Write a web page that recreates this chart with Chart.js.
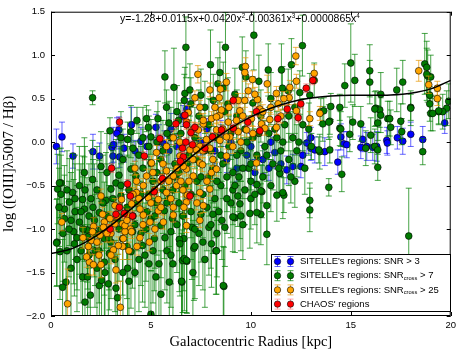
<!DOCTYPE html>
<html>
<head>
<meta charset="utf-8">
<script src="https://cdn.jsdelivr.net/npm/chart.js@4"></script>
<style>
  html, body { margin: 0; padding: 0; background: #fff; }
  #wrap { width: 460px; height: 352px; }
</style>
</head>
<body>
<div id="wrap"><canvas id="oiiiPlot"></canvas></div>
<script>
// [radius kpc, log([OIII]/Hb), error]
const snr3Regions = [
  [0.27,-0.05,0.2],[0.55,0.06,0.17],[1.1,-0.16,0.14],[2.1,-0.11,0.2],[2.43,-0.16,0.15],[3.1,-0.16,0.15],
  [3.05,-0.06,0.18],[3.13,-0.03,0.2],[3.4,0.14,0.15],[3.43,-0.17,0.12],[3.65,-0.07,0.16],[4.03,0.2,0.2],
  [3.3,0.1,0.18],[4.5,0.01,0.16],[5.25,0.17,0.15],[5.4,0.0,0.2],[5.67,-0.02,0.15],[6.0,0.15,0.18],
  [4.2,-0.1,0.12],[4.8,-0.05,0.12],[5.9,-0.1,0.15],[6.6,0.3,0.12],[6.8,0.38,0.12],[7.5,0.0,0.15],
  [8.2,-0.1,0.15],[8.8,-0.2,0.15],[9.3,-0.3,0.15],[9.8,-0.15,0.18],[10.2,-0.35,0.15],[10.6,-0.2,0.16],
  [10.9,-0.3,0.14],[11.2,-0.12,0.18],[11.5,-0.25,0.15],[11.8,-0.32,0.16],[12.1,-0.28,0.14],[12.5,-0.28,0.13],
  [12.8,-0.01,0.12],[12.6,-0.15,0.15],[13.0,-0.07,0.14],[13.0,0.05,0.12],[13.2,-0.09,0.15],[13.7,-0.11,0.16],
  [14.35,-0.23,0.14],[14.5,0.06,0.15],[14.65,-0.02,0.14],[14.8,-0.03,0.15],[15.5,-0.06,0.13],[15.6,0.03,0.14],
  [15.8,-0.05,0.16],[16.1,-0.06,0.15],[16.3,-0.05,0.17],[16.8,0.02,0.15],[16.83,-0.01,0.14],[17.33,0.05,0.13],
  [17.6,0.01,0.15],[18.0,0.09,0.14],[18.6,0.03,0.15],[19.7,0.22,0.12],[9.0,0.0,0.15],[10.0,-0.05,0.15],
  [11.0,0.0,0.12],[8.5,0.1,0.15],[7.8,0.15,0.12],[6.3,-0.05,0.14]
];

const snrCross7Regions = [
  [2.08,0.51,0.08],[5.7,0.75,0.3],[6.15,0.63,0.45],[5.78,0.4,0.2],[2.95,0.13,0.15],[4.3,0.25,0.15],
  [4.78,0.27,0.15],[5.35,0.27,0.2],[4.87,0.17,0.2],[3.83,0.03,0.2],[4.1,-0.07,0.2],[5.0,0.06,0.2],
  [5.9,0.22,0.25],[6.38,0.25,0.2],[6.75,1.09,0.35],[7.98,0.89,0.4],[7.5,0.54,0.3],[7.0,0.44,0.3],
  [6.7,0.56,0.3],[8.35,0.67,0.3],[8.45,0.8,0.35],[8.73,1.09,0.4],[8.85,0.44,0.3],[10.15,1.23,0.4],
  [12.58,1.11,0.35],[9.57,0.86,0.35],[10.87,0.83,0.3],[11.53,0.83,0.3],[12.03,0.89,0.3],[6.95,0.6,0.3],
  [6.67,0.48,0.3],[8.12,0.48,0.3],[8.62,0.62,0.3],[10.4,0.7,0.3],[11.58,0.62,0.25],[11.87,0.59,0.25],
  [9.75,0.75,0.3],[12.45,0.57,0.25],[15.0,0.91,0.45],[15.95,0.82,0.3],[15.95,0.69,0.25],[15.2,0.71,0.3],
  [14.7,0.65,0.25],[17.6,0.69,0.25],[18.85,0.76,0.3],[19.0,0.75,0.25],[18.95,0.54,0.2],[18.95,0.44,0.2],
  [19.0,0.33,0.2],[19.4,0.35,0.15],[19.8,0.39,0.2],[19.6,0.35,0.2],[14.0,0.41,0.15],[14.45,0.4,0.15],
  [16.25,0.39,0.2],[16.45,0.37,0.2],[16.5,0.31,0.2],[16.85,0.27,0.2],[18.0,0.4,0.15],[15.1,0.23,0.2],
  [13.95,0.24,0.15],[13.6,0.21,0.2],[14.45,0.16,0.2],[13.5,0.35,0.15],[13.65,0.36,0.15],[16.35,0.22,0.2],
  [17.5,0.24,0.2],[17.55,0.12,0.15],[16.0,0.08,0.2],[15.75,-0.07,0.2],[16.2,-0.05,0.2],[16.35,-0.09,0.2],
  [13.95,-0.09,0.15],[13.45,-0.11,0.2],[16.35,-0.29,0.15],[14.55,-0.37,0.2],[13.03,-0.05,0.15],
  [13.17,0.71,0.2],[16.5,0.55,0.25],[17.3,0.6,0.25],[18.7,0.9,0.35],[18.8,0.86,0.3],[18.8,0.78,0.3],
  [12.95,0.54,0.25],[16.2,0.38,0.2],[16.95,0.27,0.2],[15.5,0.21,0.2],[13.9,0.23,0.2],[14.5,0.15,0.2],
  [14.95,0.09,0.2],[17.0,0.17,0.2],[18.0,0.39,0.2],[18.6,-0.11,0.15],[13.4,-0.09,0.15],[19.9,0.47,0.2],
  [19.4,0.36,0.15],[19.1,0.33,0.2],[13.9,-0.52,0.1],[12.95,-0.67,0.2],[12.95,-0.78,0.25],[17.9,-1.08,0.55],
  [11.65,-0.61,0.2],[11.3,-0.61,0.3],[11.45,-0.36,0.25],[10.55,-0.57,0.3],[10.8,-0.73,0.35],[10.5,-0.83,0.35],
  [10.3,-0.81,0.35],[9.95,-0.82,0.4],[9.45,-0.71,0.4],[9.2,-0.87,0.4],[10.8,-1.06,0.35],[10.5,-0.56,0.3],
  [10.3,-0.49,0.3],[9.1,-0.86,0.4],[8.55,-0.9,0.45],[8.7,-0.98,0.45],[8.3,-1.05,0.5],[8.25,-1.25,0.5],
  [7.15,-1.22,0.6],[7.1,-1.5,0.6],[6.8,-1.37,0.6],[6.55,-1.61,0.6],[8.65,-1.66,0.45],[7.9,-0.98,0.55],
  [8.1,-0.83,0.45],[7.5,-0.83,0.55],[7.05,-0.98,0.6],[6.65,-1.11,0.6],[9.0,-0.7,0.4],[9.35,-0.62,0.35],
  [11.6,-0.58,0.3],[0.3,-1.15,0.5],[0.5,-0.47,0.4],[0.45,-1.26,0.55],[0.75,-1.61,0.55],[0.58,-1.67,0.55],
  [1.17,-1.17,0.6],[1.13,-1.03,0.6],[1.58,-1.55,0.6],[1.83,-1.55,0.6],[1.97,-1.76,0.55],[2.42,-1.65,0.6],
  [3.33,-1.79,0.5],[2.92,-1.28,0.65],[3.83,-1.45,0.6],[5.25,-1.55,0.6],[5.92,-1.61,0.55],[6.42,-1.12,0.6],
  [6.58,-1.36,0.6],[5.0,-1.98,0.5],[2.67,-1.38,0.65],[3.25,-1.68,0.55],[0.33,-0.54,0.4],[0.67,-0.77,0.5],
  [0.67,-0.88,0.5],[0.92,-0.69,0.5],[1.08,-0.58,0.45],[1.42,-0.5,0.45],[1.58,-0.66,0.5],[1.67,-0.77,0.6],
  [1.42,-0.92,0.6],[1.8,-1.01,0.6],[1.83,-1.09,0.6],[2.17,-0.9,0.65],[2.42,-0.81,0.6],[2.5,-1.0,0.65],
  [2.67,-1.11,0.65],[2.75,-0.67,0.55],[3.0,-0.54,0.5],[3.25,-0.47,0.5],[3.5,-0.62,0.55],[3.58,-1.11,0.65],
  [4.0,-1.26,0.65],[4.08,-1.03,0.65],[4.58,-1.19,0.65],[4.75,-1.0,0.6],[5.0,-0.88,0.6],[5.17,-1.11,0.6],
  [5.5,-0.96,0.6],[5.67,-0.79,0.55],[6.0,-1.03,0.6],[6.08,-0.88,0.55],[6.67,-1.34,0.6],[4.25,-0.39,0.4],
  [4.0,-0.31,0.4],[5.0,-0.24,0.4],[2.5,-0.28,0.4],[2.08,-0.43,0.45],[1.67,-0.35,0.4],[0.42,-0.47,0.4],
  [0.5,-0.6,0.45],[0.28,-1.16,0.5],[1.7,-1.84,0.5],[2.53,-1.59,0.6],[2.87,-1.63,0.6],[8.62,-1.65,0.45],
  [8.03,-1.17,0.5],[6.45,-1.17,0.6],[6.78,-1.36,0.6],[6.53,-1.6,0.55],[7.2,-1.2,0.6],[8.28,-1.25,0.5],
  [3.6,-0.2,0.35],[4.4,-0.15,0.35],[4.9,-0.05,0.35],[5.3,-0.35,0.4],[5.6,-0.1,0.35],[6.0,0.05,0.35],
  [6.2,-0.25,0.4],[6.5,0.1,0.35],[6.9,-0.15,0.4],[7.2,0.05,0.35],[7.4,0.3,0.3],[7.7,-0.1,0.4],
  [7.9,0.2,0.3],[8.1,-0.3,0.4],[8.3,0.05,0.35],[8.5,-0.15,0.35],[8.7,0.35,0.3],[8.9,-0.05,0.35],
  [9.1,-0.35,0.4],[9.3,0.3,0.3],[9.5,-0.1,0.35],[9.7,0.15,0.3],[9.9,-0.3,0.35],[10.1,0.05,0.3],
  [10.3,-0.15,0.3],[10.5,0.3,0.3],[10.7,-0.05,0.3],[10.9,0.1,0.3],[11.1,-0.25,0.3],[11.3,0.05,0.3],
  [11.5,-0.1,0.3],[11.7,0.2,0.3],[11.9,-0.2,0.3],[12.1,0.05,0.3],[12.3,-0.1,0.3],[12.6,0.2,0.3],
  [12.9,0.15,0.3],[12.2,-0.45,0.3],[3.3,-0.9,0.6],[3.8,-0.75,0.6],[4.2,-0.95,0.6],[4.5,-0.6,0.55],
  [4.8,-0.8,0.6],[5.1,-0.45,0.5],[5.3,-0.7,0.6],[5.6,-0.55,0.5],[5.9,-0.65,0.55],[6.2,-0.4,0.5],
  [6.4,-0.7,0.55],[6.7,-0.5,0.5],[7.0,-0.8,0.55],[7.3,-0.45,0.5],[7.6,-0.6,0.5],[7.9,-0.4,0.45],
  [8.2,-0.65,0.45],[8.5,-0.5,0.45],[8.8,-0.4,0.4],[9.1,-0.55,0.4],[9.4,-0.4,0.4],[9.7,-0.55,0.4],
  [10.0,-0.45,0.35],[10.0,-0.65,0.35],[9.6,-0.95,0.4],[7.4,-1.05,0.6],[5.8,-1.25,0.6],[4.4,-1.35,0.6],
  [3.0,-1.15,0.65],[2.2,-1.25,0.65],[1.3,-1.35,0.6],[0.9,-1.0,0.55],[2.0,-0.65,0.55],[2.8,-0.35,0.45],
  [3.4,-0.38,0.45],[1.2,-0.8,0.55],[2.3,-1.45,0.6],[4.9,-1.4,0.6],[6.1,-1.4,0.6],[7.7,-1.35,0.55],
  [5.5,-1.75,0.5],[3.9,-1.6,0.55],
  [0.4,-0.75,0.45],[0.6,-1.05,0.55],[0.8,-0.55,0.45],[0.8,-1.25,0.6],[1.0,-0.9,0.55],[1.0,-1.45,0.6],
  [1.2,-0.65,0.5],[1.3,-1.1,0.6],[1.5,-0.8,0.55],[1.5,-1.25,0.6],[1.6,-1.0,0.6],[1.7,-0.55,0.5],
  [1.9,-0.85,0.6],[1.9,-1.3,0.6],[2.1,-0.75,0.55],[2.2,-1.05,0.6],[2.3,-0.55,0.5],[2.4,-1.25,0.6],
  [2.6,-0.7,0.55],[2.7,-1.5,0.6],[2.8,-0.85,0.6],[2.9,-1.1,0.6],[3.1,-0.65,0.55],[3.2,-1.35,0.6],
  [3.4,-1.0,0.6],[3.5,-0.5,0.5],[3.6,-1.5,0.6],[3.8,-1.2,0.6],[3.9,-0.55,0.5],[4.1,-0.85,0.6],
  [4.2,-1.5,0.6],[4.3,-0.7,0.55],[4.5,-1.05,0.6],[4.6,-0.3,0.45],[4.7,-1.3,0.6],[4.9,-0.6,0.55],
  [5.1,-1.25,0.6],[5.2,-0.85,0.6],[5.4,-1.4,0.6],[5.5,-0.2,0.45],[5.7,-1.1,0.6],[5.8,-0.7,0.55],
  [6.0,-1.3,0.6],[6.1,-0.55,0.5],[6.3,-0.95,0.55],[6.4,-0.35,0.45],[6.6,-0.85,0.55],[6.8,-0.25,0.45],
  [7.0,-0.6,0.5],[7.2,-1.0,0.55],[7.3,-0.2,0.4],[7.5,-0.4,0.45],[7.6,-1.15,0.55],[7.8,-0.75,0.5],
  [8.0,-0.1,0.4],[8.0,-0.95,0.5],[8.3,-0.45,0.45],[8.4,-0.8,0.45],[8.6,-0.25,0.4],[8.8,-0.65,0.4],
  [9.0,0.1,0.3],[9.2,-0.5,0.4],[9.3,-0.15,0.35],[9.5,-0.85,0.4],[9.6,-0.3,0.35],[9.8,0.0,0.3],
  [10.0,-0.25,0.3],[10.2,-0.6,0.35],[10.4,0.1,0.3],[10.6,-0.4,0.3],[10.8,-0.15,0.3],[11.0,-0.5,0.3],
  [11.2,0.15,0.3],[11.4,-0.3,0.3],[11.6,0.0,0.3],[11.9,0.3,0.3],[12.0,-0.4,0.3],[12.4,0.0,0.3],
  [12.7,-0.3,0.3],[5.8,0.1,0.35],[5.3,0.0,0.35],[4.6,0.05,0.35],[4.0,0.12,0.3],[3.5,0.05,0.3],
  [6.3,0.35,0.3],[7.7,0.4,0.3],[9.2,0.55,0.3],[10.1,0.45,0.3],[11.0,0.5,0.3],[12.2,0.4,0.3]
];

const snrCross25Regions = [
  [7.35,0.78,0.1],[9.73,0.87,0.1],[12.25,0.99,0.1],[13.17,0.79,0.1],[18.4,0.82,0.12],[18.9,0.66,0.1],
  [19.33,0.62,0.08],[19.33,0.5,0.08],[13.45,0.33,0.08],[12.95,0.27,0.08],[0.83,-1.86,0.4],[3.47,-1.9,0.3],
  [0.54,-0.92,0.1],[1.92,-1.38,0.15],[2.5,-1.41,0.15],[3.25,-1.47,0.15],[3.58,-1.2,0.15],[4.92,-1.15,0.1],
  [2.5,-0.62,0.08],[2.58,-0.83,0.08],[2.13,-0.97,0.1],[2.08,-1.03,0.1],[2.67,-0.92,0.1],[3.58,-0.94,0.08],
  [3.97,-1.0,0.08],[3.7,-1.03,0.08],[10.08,0.72,0.1],[10.82,0.67,0.1],[11.28,0.56,0.08],[8.78,0.69,0.1],
  [8.48,0.61,0.08],[7.95,0.6,0.08],[7.45,0.4,0.08],[6.87,0.34,0.08],[8.42,0.51,0.08],[9.37,0.48,0.08],
  [9.7,0.48,0.08],[9.87,0.59,0.08],[10.33,0.49,0.08],[10.45,0.38,0.08],[10.95,0.26,0.08],[11.28,0.17,0.08],
  [11.92,0.51,0.08],[12.28,0.36,0.08],[8.87,0.23,0.08],[9.28,0.25,0.08],[9.45,0.36,0.08],[10.03,0.27,0.08],
  [10.53,0.21,0.08],[8.45,0.31,0.08],[8.03,0.27,0.08],[7.62,0.21,0.08],[7.37,0.14,0.08],[8.45,0.02,0.08],
  [8.95,0.06,0.08],[9.37,0.12,0.08],[9.78,0.14,0.08],[10.7,0.16,0.08],[7.45,-0.05,0.08],[7.95,-0.07,0.08],
  [6.95,-0.09,0.08],[6.45,0.0,0.08],[7.2,0.51,0.08],[6.78,0.23,0.08],[7.62,0.25,0.08],[7.12,0.15,0.08],
  [6.12,0.05,0.08],[5.78,-0.05,0.08],[5.28,-0.12,0.08],[5.03,-0.24,0.08],[6.45,-0.16,0.08],[7.28,-0.09,0.08],
  [7.78,0.03,0.08],[8.28,0.14,0.08],[8.78,0.06,0.08],[7.45,-0.24,0.08],[6.78,-0.31,0.08],[5.78,-0.33,0.08],
  [6.12,-0.39,0.08],[4.78,-0.39,0.08],[4.28,-0.45,0.08],[8.28,0.29,0.08],[8.53,0.37,0.08],[4.62,-0.5,0.08],
  [4.28,-0.58,0.08],[4.87,-0.64,0.08],[5.37,-0.66,0.08],[5.78,-0.58,0.08],[6.28,-0.5,0.08],[6.78,-0.69,0.08],
  [7.62,-0.73,0.08],[7.95,-0.54,0.08],[7.45,-0.58,0.08],[6.12,-0.75,0.08],[5.37,-0.79,0.08],[4.45,-0.77,0.08],
  [4.03,-0.71,0.08],[3.53,-0.66,0.08],[3.2,-0.73,0.08],[2.95,-0.88,0.08],[2.62,-0.98,0.08],[3.2,-0.94,0.08],
  [3.7,-0.96,0.08],[4.03,-1.03,0.08],[3.62,-1.11,0.1],[3.37,-1.19,0.1],[3.12,-1.24,0.1],[4.45,-1.1,0.1],
  [4.95,-0.92,0.08],[4.62,-0.84,0.08],[5.62,-0.92,0.08],[6.12,-0.84,0.08],[6.78,-0.96,0.08],[1.87,-1.2,0.1],
  [2.03,-1.13,0.1],[1.78,-1.32,0.12],[2.45,-1.07,0.1],[2.12,-1.41,0.12],[7.45,-0.9,0.08],[6.65,-0.75,0.08],
  [6.82,-0.61,0.08],[6.62,-0.28,0.08],[7.12,-0.39,0.08],[7.58,-0.26,0.08],[8.03,-0.35,0.08],[8.28,-0.31,0.08],
  [8.78,-0.16,0.08],[10.28,-0.24,0.08],[9.7,0.8,0.1],[11.37,0.44,0.08],[11.65,0.5,0.08],[11.95,0.63,0.08],
  [12.28,0.7,0.08],[5.5,-0.45,0.08],[6.5,-0.45,0.08],[5.2,-0.55,0.08],[3.9,-0.85,0.08],[3.0,-1.05,0.1],
  [4.2,-0.3,0.08],
  [2.3,-1.15,0.1],[2.8,-1.05,0.1],[3.3,-0.85,0.08],[3.8,-0.9,0.08],[4.1,-0.6,0.08],[4.4,-0.65,0.08],
  [4.6,-0.95,0.08],[5.0,-0.7,0.08],[5.1,-0.35,0.08],[5.5,-0.75,0.08],[5.6,-0.25,0.08],[5.9,-0.45,0.08],
  [6.0,-0.65,0.08],[6.3,-0.3,0.08],[6.6,-0.55,0.08],[6.9,-0.45,0.08],[7.1,-0.2,0.08],[7.3,-0.7,0.08],
  [7.6,-0.1,0.08],[7.8,-0.45,0.08],[8.1,-0.2,0.08],[8.2,0.4,0.08],[8.6,0.15,0.08],[8.9,0.4,0.08],
  [9.1,-0.05,0.08],[9.5,0.0,0.08],[9.6,0.3,0.08],[10.1,0.1,0.08],[10.2,0.55,0.08],[10.6,0.35,0.08],
  [11.0,0.4,0.08],[11.5,0.3,0.08],[3.0,-1.3,0.1],[2.4,-1.3,0.12],[1.6,-1.1,0.12],[3.9,-1.25,0.1],
  [4.3,-1.2,0.1],[5.2,-1.0,0.08]
];

const chaosRegions = [
  [3.43,0.23,0.05],[5.45,0.04,0.05],[4.67,-0.16,0.05],[3.03,-0.3,0.05],[6.75,0.0,0.05],[7.0,0.11,0.05],
  [6.58,-0.07,0.05],[6.7,0.31,0.05],[6.25,0.21,0.05],[9.12,0.48,0.05],[10.28,0.35,0.05],[11.35,0.27,0.05],
  [11.82,0.38,0.05],[12.37,0.28,0.05],[12.5,0.44,0.05],[12.77,0.62,0.05],[13.1,0.71,0.05],[9.85,0.23,0.05],
  [9.12,0.16,0.05],[8.53,0.14,0.05],[8.08,0.06,0.05],[7.2,0.17,0.05],[6.78,0.2,0.05],[7.7,-0.07,0.05],
  [7.08,-0.03,0.05],[6.62,-0.17,0.05],[10.45,0.13,0.05],[3.83,-0.48,0.05],[3.97,-0.62,0.05],[3.42,-0.75,0.05],
  [3.67,-0.82,0.05],[4.08,-0.85,0.05],[3.25,-0.83,0.05],[2.96,-1.0,0.05],[5.16,-0.57,0.05],[5.58,-0.42,0.05],
  [6.47,-0.22,0.05],[6.95,-0.62,0.05]
];

// polynomial fit
const fitRadius = [0,1,2,3,4,5,6,7,8,9,10,11,12,13,14,15,16,17,18,19,20];
const fitLog = [-1.28,-1.23,-1.117,-0.958,-0.771,-0.570,-0.367,-0.172,0.006,0.161,0.290,0.390,0.462,0.507,0.530,0.538,0.538,0.542,0.562,0.612,0.710];

const xTicks = [0, 5, 10, 15, 20];
const yTicks = [-2.0, -1.5, -1.0, -0.5, 0.0, 0.5, 1.0, 1.5];

const sans = '"Liberation Sans", Arial, sans-serif';
const serif = '"Liberation Serif", "DejaVu Serif", serif';

function series(label, rows, fill, bar, order) {
  return {
    label: label,
    data: rows.map(r => ({ x: r[0], y: r[1] })),
    errors: rows.map(r => r[2]),
    barColor: bar,
    backgroundColor: fill,
    borderColor: 'rgba(0,0,0,0.85)',
    borderWidth: 0.7,
    pointRadius: 3.4,
    order: order,
    clip: 0
  };
}

// draws text pieces, some raised or lowered
function richText(ctx, parts, x, y, size, align) {
  let total = 0;
  parts.forEach(p => {
    ctx.font = (p.s ? size * 0.6 : size) + 'px ' + sans;
    p.w = ctx.measureText(p.t).width;
    total += p.w;
  });
  let cx = align === 'center' ? x - total / 2 : x;
  ctx.textAlign = 'left';
  ctx.textBaseline = 'middle';
  parts.forEach(p => {
    ctx.font = (p.s ? size * 0.6 : size) + 'px ' + sans;
    ctx.fillText(p.t, cx, y + (p.s || 0));
    cx += p.w;
  });
}

const errorBars = {
  id: 'errorBars',
  beforeDatasetDraw(chart, args) {
    const ds = chart.data.datasets[args.index];
    if (!ds.errors) return;
    const { ctx, chartArea: a, scales: { x, y } } = chart;
    ctx.save();
    ctx.beginPath();
    ctx.rect(a.left, a.top, a.right - a.left, a.bottom - a.top);
    ctx.clip();
    ctx.strokeStyle = ds.barColor;
    ctx.lineWidth = 1;
    ds.data.forEach((p, i) => {
      const e = ds.errors[i];
      const px = x.getPixelForValue(p.x);
      const y1 = y.getPixelForValue(p.y + e);
      const y2 = y.getPixelForValue(p.y - e);
      ctx.beginPath();
      ctx.moveTo(px, y1); ctx.lineTo(px, y2);
      ctx.moveTo(px - 3, y1); ctx.lineTo(px + 3, y1);
      ctx.moveTo(px - 3, y2); ctx.lineTo(px + 3, y2);
      ctx.stroke();
    });
    ctx.restore();
  }
};

const frameAndLegend = {
  id: 'frameAndLegend',
  afterDraw(chart) {
    const { ctx, chartArea: a, scales: { x, y } } = chart;
    ctx.save();
    // axes box with inward ticks
    ctx.strokeStyle = '#000';
    ctx.lineWidth = 1;
    ctx.strokeRect(a.left + 0.5, a.top + 0.5, a.right - a.left - 1, a.bottom - a.top - 1);
    ctx.beginPath();
    xTicks.forEach(v => {
      const px = Math.round(x.getPixelForValue(v)) + 0.5;
      ctx.moveTo(px, a.bottom); ctx.lineTo(px, a.bottom - 4);
      ctx.moveTo(px, a.top); ctx.lineTo(px, a.top + 4);
    });
    yTicks.forEach(v => {
      const py = Math.round(y.getPixelForValue(v)) + 0.5;
      ctx.moveTo(a.left, py); ctx.lineTo(a.left + 4, py);
      ctx.moveTo(a.right, py); ctx.lineTo(a.right - 4, py);
    });
    ctx.stroke();

    // fit equation
    ctx.fillStyle = '#000';
    richText(ctx, [
      { t: 'y=-1.28+0.0115x+0.0420x' }, { t: '2', s: -3 },
      { t: '-0.00361x' }, { t: '3', s: -3 },
      { t: '+0.0000865x' }, { t: '4', s: -3 }
    ], 240, 19, 10.5, 'center');

    // legend
    const lx = 271, ly = 254, lw = 180, lh = 58;
    ctx.fillStyle = '#fff';
    ctx.fillRect(lx, ly, lw, lh);
    ctx.strokeRect(lx + 0.5, ly + 0.5, lw - 1, lh - 1);
    const rows = chart.data.datasets.filter(d => d.errors).slice().reverse();
    const labels = [
      [{ t: "SITELLE's regions: SNR > 3" }],
      [{ t: "SITELLE's regions: SNR" }, { t: 'cross', s: 2.5 }, { t: ' > 7' }],
      [{ t: "SITELLE's regions: SNR" }, { t: 'cross', s: 2.5 }, { t: ' > 25' }],
      [{ t: "CHAOS' regions" }]
    ];
    rows.forEach((d, i) => {
      const ry = ly + 7.5 + i * 14.2;
      [277.5, 290.5].forEach(mx => {
        ctx.strokeStyle = d.barColor;
        ctx.beginPath();
        ctx.moveTo(mx, ry - 5); ctx.lineTo(mx, ry + 5);
        ctx.moveTo(mx - 3, ry - 5); ctx.lineTo(mx + 3, ry - 5);
        ctx.moveTo(mx - 3, ry + 5); ctx.lineTo(mx + 3, ry + 5);
        ctx.stroke();
        ctx.beginPath();
        ctx.arc(mx, ry, 3.2, 0, Math.PI * 2);
        ctx.fillStyle = d.backgroundColor;
        ctx.fill();
        ctx.strokeStyle = 'rgba(0,0,0,0.85)';
        ctx.lineWidth = 0.7;
        ctx.stroke();
        ctx.lineWidth = 1;
      });
      ctx.fillStyle = '#000';
      richText(ctx, labels[i], 300, ry, 9.5, 'left');
    });
    ctx.restore();
  }
};

const ctx = document.getElementById('oiiiPlot');

new Chart(ctx, {
  type: 'scatter',
  data: {
    datasets: [
      {
        type: 'line',
        label: 'fit',
        data: fitRadius.map((r, i) => ({ x: r, y: fitLog[i] })),
        borderColor: '#000',
        borderWidth: 1.5,
        pointRadius: 0,
        cubicInterpolationMode: 'monotone',
        fill: false,
        order: 0
      },
      series("CHAOS' regions", chaosRegions, '#ff0000', 'rgba(255,0,0,0.35)', 1),
      series("SITELLE's regions: SNRcross > 25", snrCross25Regions, '#ffa500', 'rgba(230,150,0,0.7)', 2),
      series("SITELLE's regions: SNRcross > 7", snrCross7Regions, '#007a00', 'rgba(0,128,0,0.72)', 3),
      series("SITELLE's regions: SNR > 3", snr3Regions, '#0000ff', 'rgba(0,0,255,0.6)', 4)
    ]
  },
  options: {
    responsive: true,
    maintainAspectRatio: false,
    animation: false,
    layout: { padding: { top: 7, right: 9, left: 0, bottom: 0 } },
    plugins: {
      legend: { display: false },
      tooltip: { enabled: false }
    },
    scales: {
      x: {
        type: 'linear',
        min: 0,
        max: 20,
        afterBuildTicks: s => { s.ticks = xTicks.map(v => ({ value: v })); },
        afterFit: s => { s.height = 36; },
        grid: { display: false, drawTicks: false },
        border: { display: false },
        ticks: { color: '#000', padding: 4, font: { family: sans, size: 9.5 } },
        title: {
          display: true,
          text: 'Galactocentric Radius [kpc]',
          color: '#000',
          padding: { top: 0, bottom: 1 },
          font: { family: serif, size: 14.5 }
        }
      },
      y: {
        min: -2,
        max: 1.5,
        afterBuildTicks: s => { s.ticks = yTicks.map(v => ({ value: v })); },
        afterFit: s => { s.width = 51; },
        grid: { display: false, drawTicks: false },
        border: { display: false },
        ticks: {
          color: '#000',
          padding: 6,
          font: { family: sans, size: 9.5 },
          callback: v => v.toFixed(1).replace('-', '\u2212')
        },
        title: {
          display: true,
          text: 'log ([OIII]\u03bb5007 / H\u03b2)',
          color: '#000',
          padding: { top: 0, bottom: 0 },
          font: { family: serif, size: 15 }
        }
      }
    }
  },
  plugins: [errorBars, frameAndLegend]
});
</script>
</body>
</html>
